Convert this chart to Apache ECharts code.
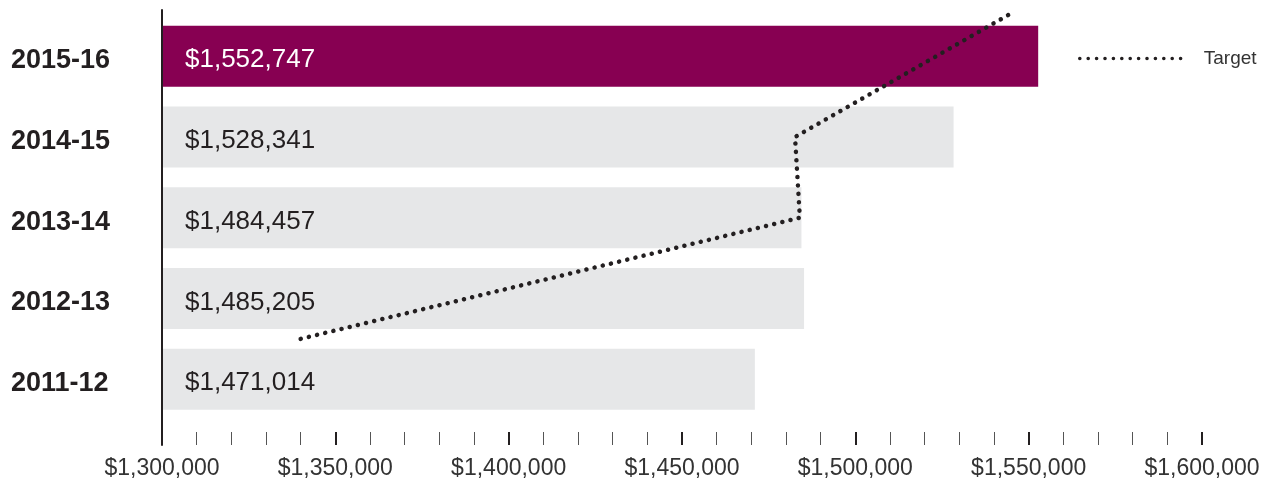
<!DOCTYPE html>
<html>
<head>
<meta charset="utf-8">
<style>
  html, body { margin: 0; padding: 0; background: #ffffff; }
  #chart { width: 1272px; height: 485px; }
</style>
<script src="https://cdn.jsdelivr.net/npm/echarts@6/dist/echarts.min.js"></script>
</head>
<body>
<div id="chart"></div>
<script>
// Fiscal years, bottom to top
const years = ['2011-12', '2012-13', '2013-14', '2014-15', '2015-16'];
const totals = [1471014, 1485205, 1484457, 1528341, 1552747];

// Target line: dollar value and position along the year axis (year index)
const targetValues = [1340000, 1484000, 1482600, 1546100];
const targetPositions = [0.5, 2, 3, 4.56];

// Dollar axis
const axisMin = 1300000;
const axisMax = 1600000;
const axisStep = 50000;

const FONT = '"Liberation Sans", Arial, sans-serif';
const PURPLE = '#870052';
const GREY = '#e6e7e8';
const INK = '#231f20';

// Layout: bar grid and the outer frame grid (ticks, labels, target line)
const W = 1272, H = 485;
const barGrid = { left: 162, right: 70, top: 15.9, bottom: 65.4 };
const frameGrid = { left: 162, right: 70, top: 10, bottom: 40 };
const band = (H - barGrid.top - barGrid.bottom) / years.length;
const frameMin = -0.5 - ((H - frameGrid.bottom) - (H - barGrid.bottom)) / band;
const frameMax = (years.length - 0.5) + (barGrid.top - frameGrid.top) / band;

const money = v => '$' + v.toLocaleString('en-US');
const latest = years.length - 1;

const barData = totals.map((v, i) => ({
  value: v,
  itemStyle: { color: i === latest ? PURPLE : GREY },
  label: { color: i === latest ? '#ffffff' : INK }
}));

const targetData = targetValues.map((v, i) => [v, targetPositions[i]]);

const chart = echarts.init(document.getElementById('chart'), null, { renderer: 'canvas' });
chart.setOption({
  animation: false,
  backgroundColor: '#ffffff',
  grid: [
    Object.assign({ containLabel: false }, barGrid),
    Object.assign({ containLabel: false }, frameGrid)
  ],
  legend: {
    data: ['Target'],
    left: 1073,
    top: 44,
    itemWidth: 106,
    itemHeight: 14,
    itemStyle: { opacity: 0 },
    lineStyle: { color: INK, width: 3.5, type: [0.1, 8.3], cap: 'round' },
    textStyle: { fontFamily: FONT, fontSize: 19, color: '#333333', padding: [0, 0, 0, 13] }
  },
  xAxis: [
    {
      gridIndex: 0, type: 'value', min: axisMin, max: axisMax, interval: axisStep,
      show: false
    },
    {
      gridIndex: 1, type: 'value', min: axisMin, max: axisMax, interval: axisStep,
      position: 'bottom',
      z: 4,
      axisLine: { show: false, onZero: false },
      splitLine: { show: false },
      axisTick: { show: true, inside: true, length: 13, lineStyle: { color: INK, width: 2 } },
      minorTick: { show: true, splitNumber: 5, length: 13, lineStyle: { color: '#555555', width: 1 } },
      minorSplitLine: { show: false },
      axisLabel: {
        show: true, margin: 12, showMinLabel: true, showMaxLabel: true,
        fontFamily: FONT, fontSize: 23, color: '#333333',
        formatter: v => money(v)
      }
    }
  ],
  yAxis: [
    {
      gridIndex: 0, type: 'category', data: years,
      axisLine: { show: false },
      axisTick: { show: false },
      splitLine: { show: false },
      axisLabel: {
        align: 'left', margin: 151,
        formatter: v => '{yr|' + v + '}',
        rich: {
          yr: {
            padding: [9, 0, 0, 0],
            fontFamily: FONT, fontSize: 27, fontWeight: 'bold', color: INK
          }
        }
      }
    },
    {
      gridIndex: 1, type: 'value', min: frameMin, max: frameMax,
      z: 4,
      axisLine: { show: true, onZero: false, lineStyle: { color: INK, width: 2 } },
      axisTick: { show: false },
      axisLabel: { show: false },
      splitLine: { show: false }
    }
  ],
  series: [
    {
      name: 'Total',
      type: 'bar',
      xAxisIndex: 0, yAxisIndex: 0,
      barWidth: 61,
      data: barData,
      label: {
        show: true, position: 'insideLeft', distance: 23, offset: [0, 4],
        fontFamily: FONT, fontSize: 26,
        formatter: p => money(p.value)
      },
      z: 2
    },
    {
      name: 'Target',
      type: 'line',
      xAxisIndex: 1, yAxisIndex: 1,
      data: targetData,
      symbol: 'none',
      clip: false,
      lineStyle: { color: INK, width: 4.5, type: [0.1, 8.3], cap: 'round', join: 'round' },
      itemStyle: { color: INK },
      z: 5
    }
  ]
});
</script>
</body>
</html>
